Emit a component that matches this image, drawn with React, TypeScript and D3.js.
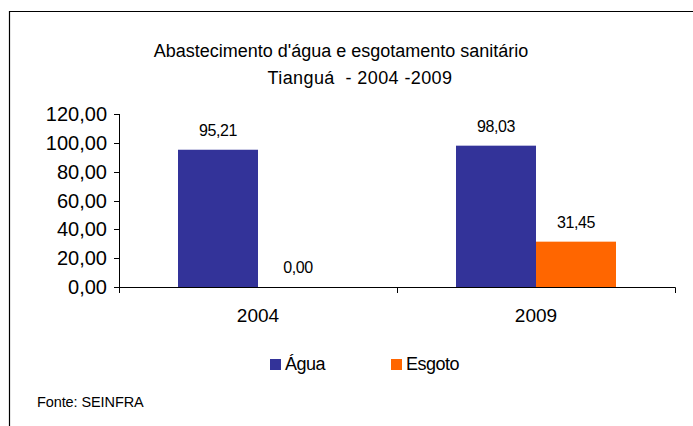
import React from "react";
import * as d3 from "d3";

const categories = ["2004", "2009"];
const seriesNames = ["Água", "Esgoto"];
const agua = [95.21, 98.03];
const esgoto = [0.0, 31.45];
const yTicks = [0, 20, 40, 60, 80, 100, 120];
const colors = ["#333399", "#FF6600"];
const titleLines = ["Abastecimento d'água e esgotamento sanitário", "Tianguá  - 2004 -2009"];
const source = "Fonte: SEINFRA";

const fmt = (v: number) => v.toFixed(2).replace(".", ",");

export default function App() {
  const W = 693, H = 426;
  const x = d3.scaleBand<string>().domain(categories).range([119, 675]).paddingInner(0).paddingOuter(0);
  const x1 = d3.scaleBand<string>().domain(seriesNames).range([0, x.bandwidth()]).paddingInner(0).paddingOuter(0.7375);
  const y = d3.scaleLinear().domain([0, 120]).range([287, 114]);
  const values = [agua, esgoto];
  const font = "'Liberation Sans', Arial, sans-serif";
  const tickPositions = [119, ...categories.map((c) => (x(c) as number) + x.bandwidth())];

  return (
    <svg width={W} height={H} style={{ position: "absolute", left: 0, top: 0, background: "#fff" }} fontFamily={font}>
      <rect x={0} y={0} width={W} height={H} fill="#fff" />
      <path d={`M9.5,${H} V11.5 H${W}`} fill="none" stroke="#000" strokeWidth={1.2} />
      <text x={341} y={57} textAnchor="middle" fontSize={18} fill="#000">{titleLines[0]}</text>
      <text x={360} y={84} textAnchor="middle" fontSize={18} fill="#000" style={{ whiteSpace: "pre" }} letterSpacing={0.4}>{titleLines[1]}</text>

      {seriesNames.map((s, si) =>
        categories.map((c, ci) => {
          const v = values[si][ci];
          const bx = (x(c) as number) + (x1(s) as number);
          return (
            <g key={s + c}>
              <rect x={bx} y={y(v)} width={x1.bandwidth()} height={y(0) - y(v)} fill={colors[si]} />
              <text x={bx + x1.bandwidth() / 2} y={y(v) - 14} textAnchor="middle" fontSize={16} fill="#000" letterSpacing={-0.4}>
                {fmt(v)}
              </text>
            </g>
          );
        })
      )}

      {/* y axis */}
      <line x1={119.5} x2={119.5} y1={y(120)} y2={y(0) + 6} stroke="#000" strokeWidth={1} />
      {yTicks.map((t) => (
        <g key={t}>
          <line x1={114} x2={119.5} y1={Math.round(y(t)) + 0.5} y2={Math.round(y(t)) + 0.5} stroke="#000" />
          <text x={107} y={y(t) + 7} textAnchor="end" fontSize={20} fill="#000">{fmt(t)}</text>
        </g>
      ))}
      {/* x axis */}
      <line x1={119} x2={675.5} y1={287.5} y2={287.5} stroke="#000" strokeWidth={1.2} />
      {tickPositions.map((p, i) => (
        <line key={i} x1={Math.round(p) + 0.5} x2={Math.round(p) + 0.5} y1={287.5} y2={293} stroke="#000" />
      ))}
      {categories.map((c) => (
        <text key={c} x={(x(c) as number) + x.bandwidth() / 2} y={322} textAnchor="middle" fontSize={19} fill="#000">{c}</text>
      ))}

      {/* legend */}
      {[{ sx: 270, tx: 285 }, { sx: 391, tx: 406 }].map((l, i) => (
        <g key={i}>
          <rect x={l.sx} y={359} width={11} height={11} fill={colors[i]} />
          <text x={l.tx} y={370} fontSize={18} fill="#000" letterSpacing={-0.5}>{seriesNames[i]}</text>
        </g>
      ))}

      <text x={37} y={407} fontSize={14.5} fill="#000" letterSpacing={-0.1}>{source}</text>
    </svg>
  );
}
